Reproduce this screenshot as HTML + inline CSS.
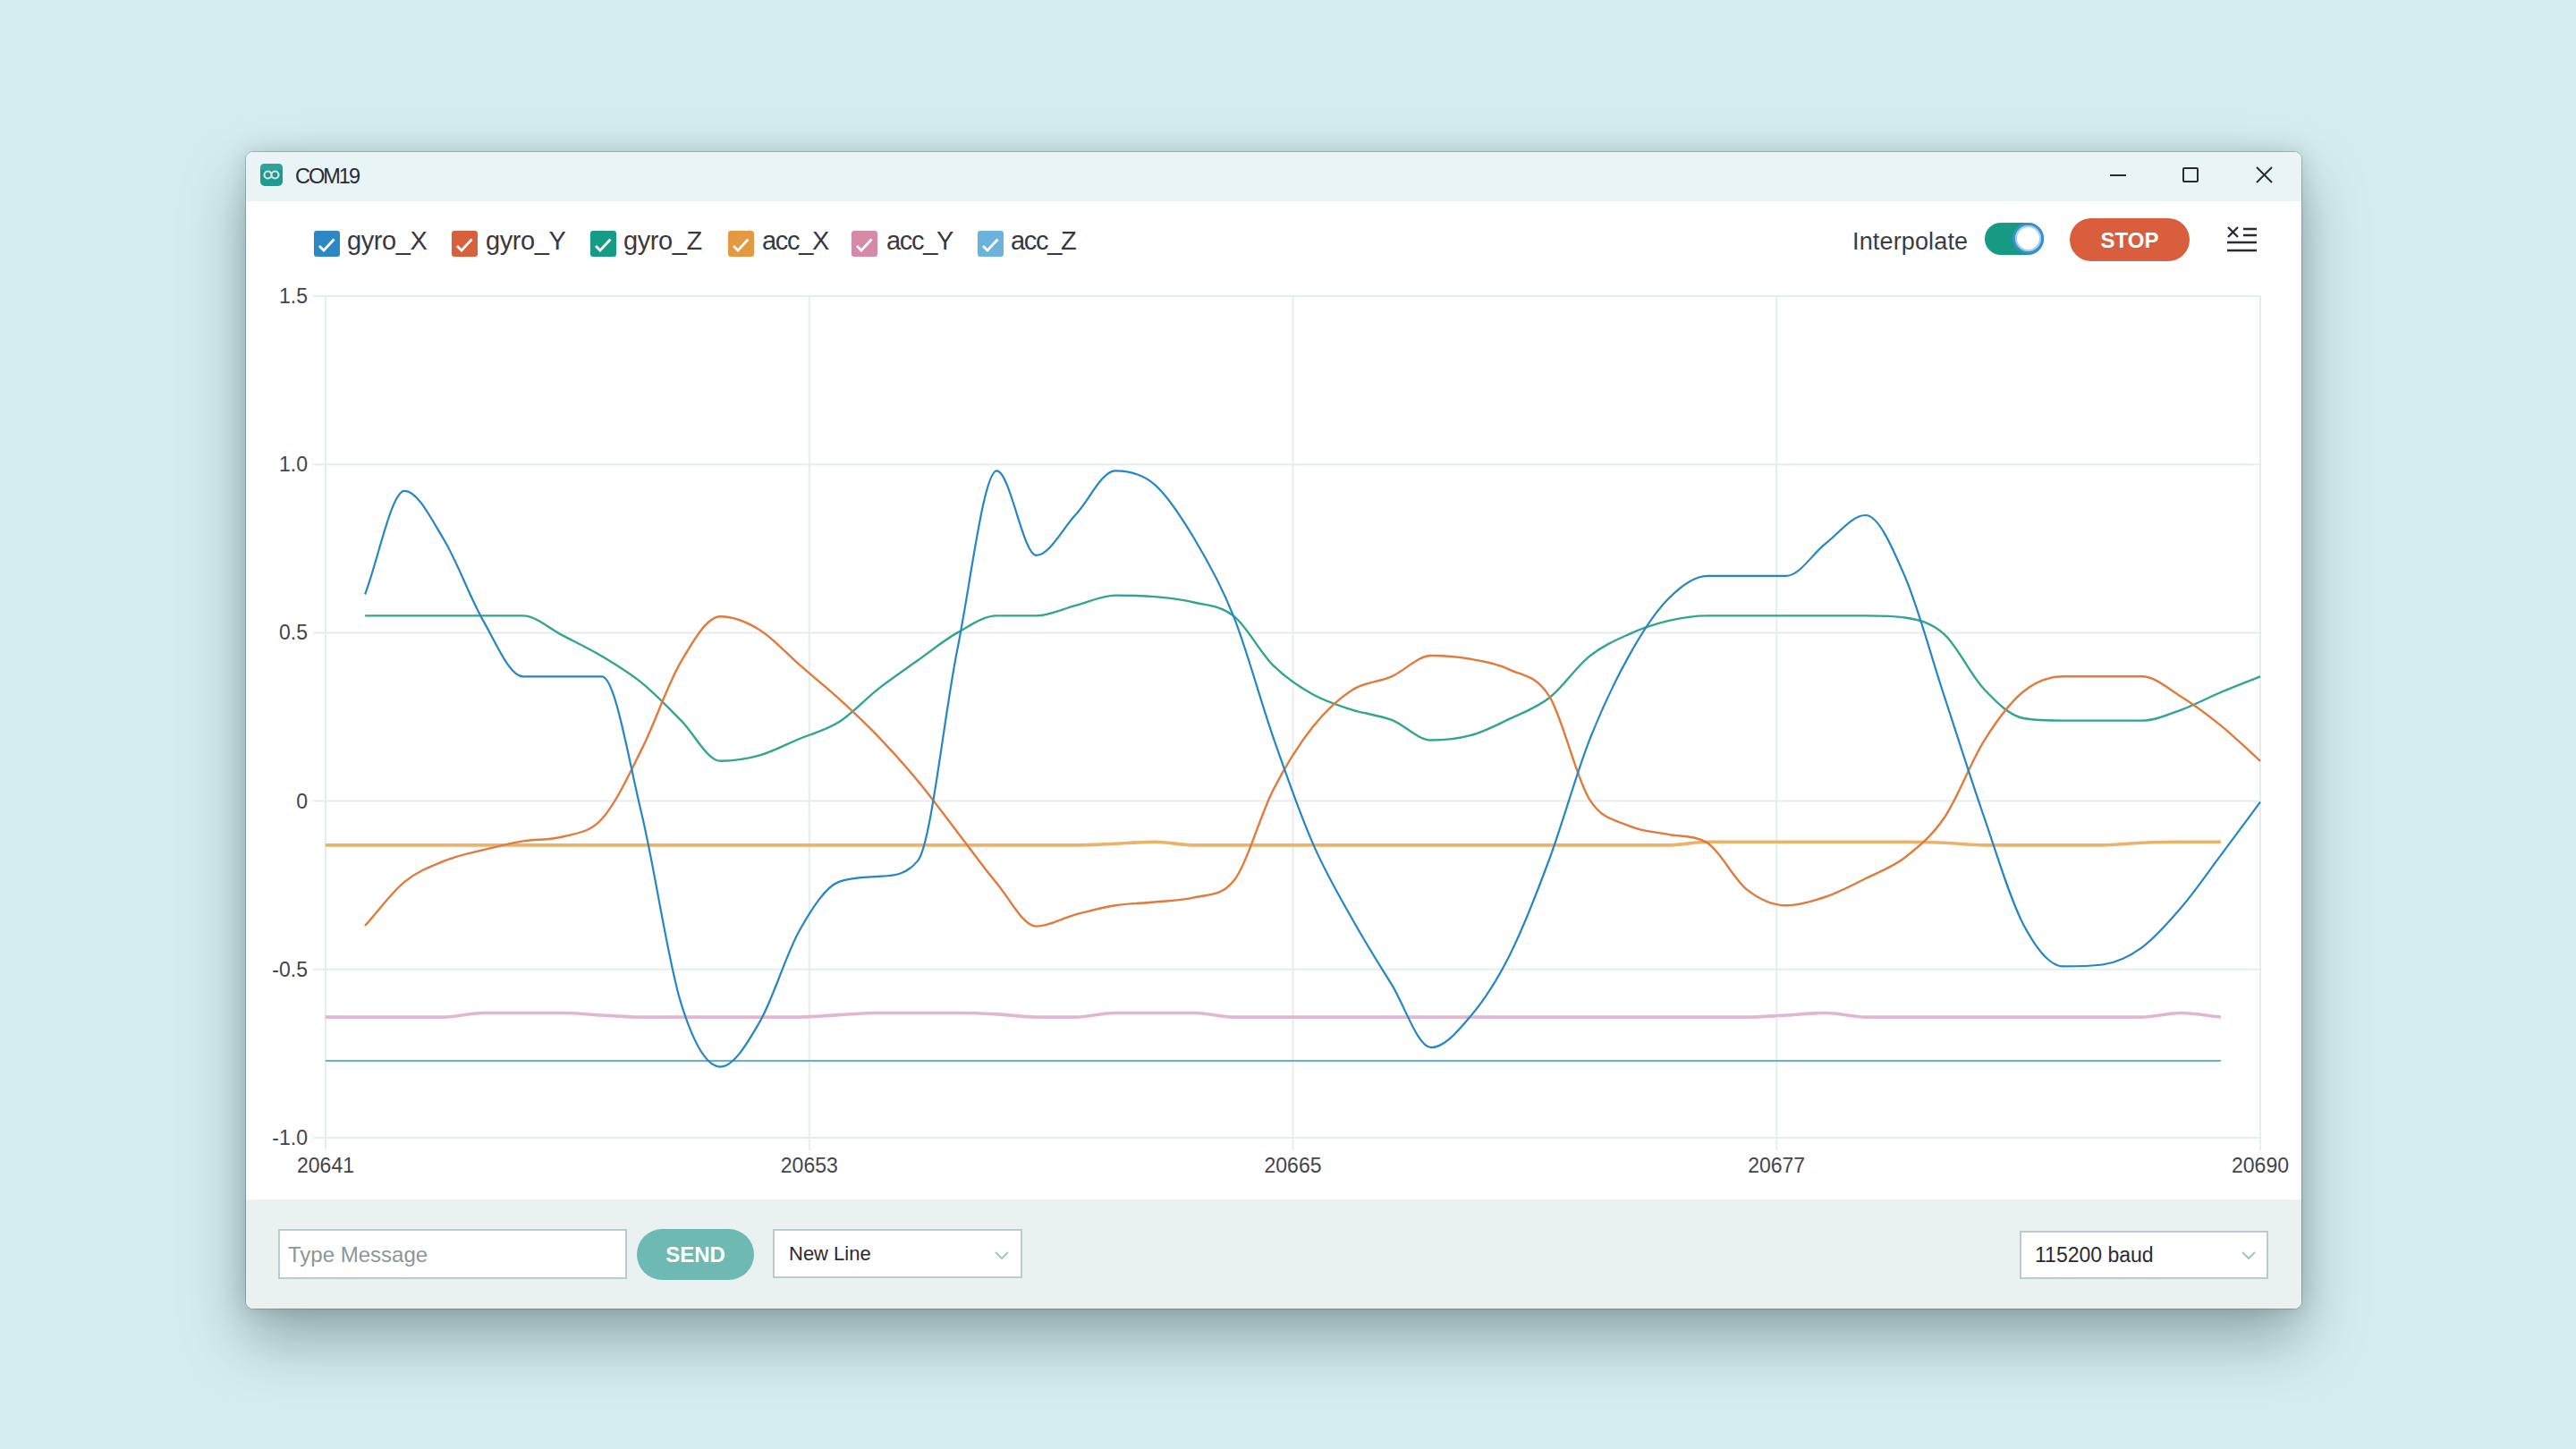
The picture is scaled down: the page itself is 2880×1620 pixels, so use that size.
<!DOCTYPE html>
<html><head><meta charset="utf-8"><title>COM19</title>
<style>
html,body{margin:0;padding:0;}
body{width:2880px;height:1620px;overflow:hidden;background:#d5edef;font-family:"Liberation Sans",sans-serif;position:relative;}
.win{position:absolute;left:275px;top:170px;width:2298px;height:1293px;border-radius:8px;background:#fff;
 box-shadow:0 0 0 1px rgba(40,70,75,0.28),0 0 24px rgba(40,62,66,0.18),0 34px 70px rgba(40,62,66,0.40);overflow:hidden;}
.title{position:absolute;left:0;top:0;width:100%;height:55px;background:#e8f4f5;}
.ico{position:absolute;left:16px;top:13px;width:25px;height:25px;border-radius:5px;background:#1d9b8f;}
.ttxt{position:absolute;left:55px;top:13px;font-size:23.5px;letter-spacing:-2px;color:#2b2a33;line-height:28px;}
.bar{position:absolute;left:0;top:1171px;width:100%;height:122px;background:#eaf1f1;}
.abs{position:absolute;}
.cb{position:absolute;top:88px;width:29px;height:29px;border-radius:3px;}
.cb svg{position:absolute;left:0;top:0;}
.lg{position:absolute;top:81px;font-size:29px;color:#393840;line-height:36px;white-space:nowrap;}
.yl{position:absolute;right:2536px;width:80px;text-align:right;font-size:23px;color:#44444c;line-height:26px;}
.xl{position:absolute;top:1290px;width:120px;text-align:center;font-size:23px;color:#44444c;line-height:26px;}
.inp{position:absolute;background:#fff;border:2px solid #b8cbce;box-sizing:border-box;}
</style></head>
<body>
<div class="win">
  <div class="title">
    <div class="ico"><svg width="25" height="25" viewBox="0 0 25 25"><rect x="0" y="0" width="25" height="7" rx="4" fill="#3aa9a0" opacity="0.6"/><path d="M4.5 12.5a4 4 0 1 0 8 0a4 4 0 1 0 -8 0M12.5 12.5a4 4 0 1 0 8 0a4 4 0 1 0 -8 0" fill="none" stroke="#d6e6e6" stroke-width="2.2"/></svg></div>
    <div class="ttxt">COM19</div>
    <div class="abs" style="left:2084px;top:25px;width:18px;height:2px;background:#2b2a33"></div>
    <div class="abs" style="left:2165px;top:17px;width:18px;height:17px;border:2px solid #2b2a33;border-radius:2px;box-sizing:border-box"></div>
    <svg class="abs" style="left:2247px;top:16px" width="19" height="19" viewBox="0 0 19 19"><path d="M1 1L18 18M18 1L1 18" stroke="#2b2a33" stroke-width="2"/></svg>
  </div>
  <div class="bar"></div>
</div>
<!-- legend -->
<div class="cb" style="left:351px;top:258px;background:#2b88c4"><svg width="29" height="29"><path d="M6 17L11 22L22.5 9.5" fill="none" stroke="#fff" stroke-width="2.8"/></svg></div>
<div class="lg" style="left:388px;top:251px;letter-spacing:-0.4px">gyro_X</div>
<div class="cb" style="left:505px;top:258px;background:#d9603c"><svg width="29" height="29"><path d="M6 17L11 22L22.5 9.5" fill="none" stroke="#fff" stroke-width="2.8"/></svg></div>
<div class="lg" style="left:543px;top:251px;letter-spacing:-0.4px">gyro_Y</div>
<div class="cb" style="left:660px;top:258px;background:#169c86"><svg width="29" height="29"><path d="M6 17L11 22L22.5 9.5" fill="none" stroke="#fff" stroke-width="2.8"/></svg></div>
<div class="lg" style="left:697px;top:251px;letter-spacing:-0.4px">gyro_Z</div>
<div class="cb" style="left:814px;top:258px;background:#e4983f"><svg width="29" height="29"><path d="M6 17L11 22L22.5 9.5" fill="none" stroke="#fff" stroke-width="2.8"/></svg></div>
<div class="lg" style="left:852px;top:251px;letter-spacing:-1.3px">acc_X</div>
<div class="cb" style="left:952px;top:258px;background:#d68aa8"><svg width="29" height="29"><path d="M6 17L11 22L22.5 9.5" fill="none" stroke="#fff" stroke-width="2.8"/></svg></div>
<div class="lg" style="left:991px;top:251px;letter-spacing:-1.3px">acc_Y</div>
<div class="cb" style="left:1093px;top:258px;background:#6bb2dc"><svg width="29" height="29"><path d="M6 17L11 22L22.5 9.5" fill="none" stroke="#fff" stroke-width="2.8"/></svg></div>
<div class="lg" style="left:1130px;top:251px;letter-spacing:-1.3px">acc_Z</div>
<!-- right controls -->
<div class="abs" style="left:2071px;top:255px;font-size:27px;letter-spacing:0.15px;color:#3c3c44;line-height:30px">Interpolate</div>
<div class="abs" style="left:2219px;top:249px;width:66px;height:36px;border-radius:18px;background:#169a84"></div>
<div class="abs" style="left:2250px;top:249px;width:29px;height:29px;border-radius:50%;background:#fff;border:3.5px solid #3a8fcf;box-shadow:inset 0 0 0 2px #a3d0ee"></div>
<div class="abs" style="left:2314px;top:244px;width:134px;height:48px;border-radius:24px;background:#d95e3d;color:#fff;font-weight:bold;font-size:24px;line-height:50px;text-align:center">STOP</div>
<svg class="abs" style="left:2488px;top:251px" width="38" height="32" viewBox="0 0 38 32">
 <path d="M3 3L14 14M14 3L3 14" stroke="#2b2a33" stroke-width="2.3"/>
 <path d="M20 5H35M20 12H35M2 20H35M2 29H35" stroke="#2b2a33" stroke-width="2.3"/>
</svg>
<!-- chart -->
<svg class="abs" style="left:0;top:0" width="2880" height="1620">
<line x1="350" y1="331.0" x2="2527.0" y2="331.0" stroke="#e5eeee" stroke-width="2"/>
<line x1="350" y1="519.2" x2="2527.0" y2="519.2" stroke="#e5eeee" stroke-width="2"/>
<line x1="350" y1="707.4" x2="2527.0" y2="707.4" stroke="#e5eeee" stroke-width="2"/>
<line x1="350" y1="895.6" x2="2527.0" y2="895.6" stroke="#e5eeee" stroke-width="2"/>
<line x1="350" y1="1083.8" x2="2527.0" y2="1083.8" stroke="#e5eeee" stroke-width="2"/>
<line x1="350" y1="1272.0" x2="2527.0" y2="1272.0" stroke="#e5eeee" stroke-width="2"/>
<line x1="364.0" y1="331.0" x2="364.0" y2="1286" stroke="#e5eeee" stroke-width="2"/>
<line x1="904.8" y1="331.0" x2="904.8" y2="1286" stroke="#e5eeee" stroke-width="2"/>
<line x1="1445.5" y1="331.0" x2="1445.5" y2="1286" stroke="#e5eeee" stroke-width="2"/>
<line x1="1986.2" y1="331.0" x2="1986.2" y2="1286" stroke="#e5eeee" stroke-width="2"/>
<line x1="2527.0" y1="331.0" x2="2527.0" y2="1286" stroke="#e5eeee" stroke-width="2"/>
<path d="M364.0 1186.0C378.7 1186.0 393.4 1186.0 408.1 1186.0C422.9 1186.0 437.6 1186.0 452.3 1186.0C467.0 1186.0 481.7 1186.0 496.4 1186.0C511.1 1186.0 525.9 1186.0 540.6 1186.0C555.3 1186.0 570.0 1186.0 584.7 1186.0C599.4 1186.0 614.1 1186.0 628.9 1186.0C643.6 1186.0 658.3 1186.0 673.0 1186.0C687.7 1186.0 702.4 1186.0 717.1 1186.0C731.9 1186.0 746.6 1186.0 761.3 1186.0C776.0 1186.0 790.7 1186.0 805.4 1186.0C820.1 1186.0 834.9 1186.0 849.6 1186.0C864.3 1186.0 879.0 1186.0 893.7 1186.0C908.4 1186.0 923.1 1186.0 937.9 1186.0C952.6 1186.0 967.3 1186.0 982.0 1186.0C996.7 1186.0 1011.4 1186.0 1026.1 1186.0C1040.9 1186.0 1055.6 1186.0 1070.3 1186.0C1085.0 1186.0 1099.7 1186.0 1114.4 1186.0C1129.1 1186.0 1143.9 1186.0 1158.6 1186.0C1173.3 1186.0 1188.0 1186.0 1202.7 1186.0C1217.4 1186.0 1232.1 1186.0 1246.9 1186.0C1261.6 1186.0 1276.3 1186.0 1291.0 1186.0C1305.7 1186.0 1320.4 1186.0 1335.1 1186.0C1349.9 1186.0 1364.6 1186.0 1379.3 1186.0C1394.0 1186.0 1408.7 1186.0 1423.4 1186.0C1438.1 1186.0 1452.9 1186.0 1467.6 1186.0C1482.3 1186.0 1497.0 1186.0 1511.7 1186.0C1526.4 1186.0 1541.1 1186.0 1555.9 1186.0C1570.6 1186.0 1585.3 1186.0 1600.0 1186.0C1614.7 1186.0 1629.4 1186.0 1644.1 1186.0C1658.9 1186.0 1673.6 1186.0 1688.3 1186.0C1703.0 1186.0 1717.7 1186.0 1732.4 1186.0C1747.1 1186.0 1761.9 1186.0 1776.6 1186.0C1791.3 1186.0 1806.0 1186.0 1820.7 1186.0C1835.4 1186.0 1850.1 1186.0 1864.9 1186.0C1879.6 1186.0 1894.3 1186.0 1909.0 1186.0C1923.7 1186.0 1938.4 1186.0 1953.1 1186.0C1967.9 1186.0 1982.6 1186.0 1997.3 1186.0C2012.0 1186.0 2026.7 1186.0 2041.4 1186.0C2056.1 1186.0 2070.9 1186.0 2085.6 1186.0C2100.3 1186.0 2115.0 1186.0 2129.7 1186.0C2144.4 1186.0 2159.1 1186.0 2173.9 1186.0C2188.6 1186.0 2203.3 1186.0 2218.0 1186.0C2232.7 1186.0 2247.4 1186.0 2262.1 1186.0C2276.9 1186.0 2291.6 1186.0 2306.3 1186.0C2321.0 1186.0 2335.7 1186.0 2350.4 1186.0C2365.1 1186.0 2379.9 1186.0 2394.6 1186.0C2409.3 1186.0 2424.0 1186.0 2438.7 1186.0C2453.4 1186.0 2468.1 1186.0 2482.9 1186.0" fill="none" stroke="#64afdc" stroke-width="2.2"/>
<path d="M364.0 1137.1C378.7 1137.1 393.4 1137.1 408.1 1137.1C422.9 1137.1 437.6 1137.1 452.3 1137.1C467.0 1137.1 481.7 1137.1 496.4 1137.1C511.1 1137.1 525.9 1132.5 540.6 1132.5C555.3 1132.5 570.0 1132.5 584.7 1132.5C599.4 1132.5 614.1 1132.5 628.9 1132.5C643.6 1132.5 658.3 1134.2 673.0 1135.0C687.7 1135.7 702.4 1137.1 717.1 1137.1C731.9 1137.1 746.6 1137.1 761.3 1137.1C776.0 1137.1 790.7 1137.1 805.4 1137.1C820.1 1137.1 834.9 1137.1 849.6 1137.1C864.3 1137.1 879.0 1137.1 893.7 1137.1C908.4 1137.1 923.1 1135.4 937.9 1134.6C952.6 1133.9 967.3 1132.5 982.0 1132.5C996.7 1132.5 1011.4 1132.5 1026.1 1132.5C1040.9 1132.5 1055.6 1132.5 1070.3 1132.5C1085.0 1132.5 1099.7 1133.1 1114.4 1133.9C1129.1 1134.6 1143.9 1137.1 1158.6 1137.1C1173.3 1137.1 1188.0 1137.1 1202.7 1137.1C1217.4 1137.1 1232.1 1132.5 1246.9 1132.5C1261.6 1132.5 1276.3 1132.5 1291.0 1132.5C1305.7 1132.5 1320.4 1132.5 1335.1 1132.5C1349.9 1132.5 1364.6 1137.1 1379.3 1137.1C1394.0 1137.1 1408.7 1137.1 1423.4 1137.1C1438.1 1137.1 1452.9 1137.1 1467.6 1137.1C1482.3 1137.1 1497.0 1137.1 1511.7 1137.1C1526.4 1137.1 1541.1 1137.1 1555.9 1137.1C1570.6 1137.1 1585.3 1137.1 1600.0 1137.1C1614.7 1137.1 1629.4 1137.1 1644.1 1137.1C1658.9 1137.1 1673.6 1137.1 1688.3 1137.1C1703.0 1137.1 1717.7 1137.1 1732.4 1137.1C1747.1 1137.1 1761.9 1137.1 1776.6 1137.1C1791.3 1137.1 1806.0 1137.1 1820.7 1137.1C1835.4 1137.1 1850.1 1137.1 1864.9 1137.1C1879.6 1137.1 1894.3 1137.1 1909.0 1137.1C1923.7 1137.1 1938.4 1137.1 1953.1 1137.1C1967.9 1137.1 1982.6 1135.7 1997.3 1135.0C2012.0 1134.2 2026.7 1132.5 2041.4 1132.5C2056.1 1132.5 2070.9 1137.1 2085.6 1137.1C2100.3 1137.1 2115.0 1137.1 2129.7 1137.1C2144.4 1137.1 2159.1 1137.1 2173.9 1137.1C2188.6 1137.1 2203.3 1137.1 2218.0 1137.1C2232.7 1137.1 2247.4 1137.1 2262.1 1137.1C2276.9 1137.1 2291.6 1137.1 2306.3 1137.1C2321.0 1137.1 2335.7 1137.1 2350.4 1137.1C2365.1 1137.1 2379.9 1137.1 2394.6 1137.1C2409.3 1137.1 2424.0 1132.5 2438.7 1132.5C2453.4 1132.5 2468.1 1135.6 2482.9 1137.1" fill="none" stroke="#e2b6d0" stroke-width="3.6"/>
<path d="M364.0 944.9C378.7 944.9 393.4 944.9 408.1 944.9C422.9 944.9 437.6 944.9 452.3 944.9C467.0 944.9 481.7 944.9 496.4 944.9C511.1 944.9 525.9 944.9 540.6 944.9C555.3 944.9 570.0 944.9 584.7 944.9C599.4 944.9 614.1 944.9 628.9 944.9C643.6 944.9 658.3 944.9 673.0 944.9C687.7 944.9 702.4 944.9 717.1 944.9C731.9 944.9 746.6 944.9 761.3 944.9C776.0 944.9 790.7 944.9 805.4 944.9C820.1 944.9 834.9 944.9 849.6 944.9C864.3 944.9 879.0 944.9 893.7 944.9C908.4 944.9 923.1 944.9 937.9 944.9C952.6 944.9 967.3 944.9 982.0 944.9C996.7 944.9 1011.4 944.9 1026.1 944.9C1040.9 944.9 1055.6 944.9 1070.3 944.9C1085.0 944.9 1099.7 944.9 1114.4 944.9C1129.1 944.9 1143.9 944.9 1158.6 944.9C1173.3 944.9 1188.0 944.9 1202.7 944.9C1217.4 944.9 1232.1 943.9 1246.9 943.3C1261.6 942.6 1276.3 941.3 1291.0 941.3C1305.7 941.3 1320.4 944.9 1335.1 944.9C1349.9 944.9 1364.6 944.9 1379.3 944.9C1394.0 944.9 1408.7 944.9 1423.4 944.9C1438.1 944.9 1452.9 944.9 1467.6 944.9C1482.3 944.9 1497.0 944.9 1511.7 944.9C1526.4 944.9 1541.1 944.9 1555.9 944.9C1570.6 944.9 1585.3 944.9 1600.0 944.9C1614.7 944.9 1629.4 944.9 1644.1 944.9C1658.9 944.9 1673.6 944.9 1688.3 944.9C1703.0 944.9 1717.7 944.9 1732.4 944.9C1747.1 944.9 1761.9 944.9 1776.6 944.9C1791.3 944.9 1806.0 944.9 1820.7 944.9C1835.4 944.9 1850.1 944.9 1864.9 944.9C1879.6 944.9 1894.3 941.3 1909.0 941.3C1923.7 941.3 1938.4 941.3 1953.1 941.3C1967.9 941.3 1982.6 941.3 1997.3 941.3C2012.0 941.3 2026.7 941.3 2041.4 941.3C2056.1 941.3 2070.9 941.3 2085.6 941.3C2100.3 941.3 2115.0 941.3 2129.7 941.3C2144.4 941.3 2159.1 941.6 2173.9 942.2C2188.6 942.8 2203.3 944.9 2218.0 944.9C2232.7 944.9 2247.4 944.9 2262.1 944.9C2276.9 944.9 2291.6 944.9 2306.3 944.9C2321.0 944.9 2335.7 944.9 2350.4 944.9C2365.1 944.9 2379.9 942.9 2394.6 942.3C2409.3 941.7 2424.0 941.3 2438.7 941.3C2453.4 941.3 2468.1 941.3 2482.9 941.3" fill="none" stroke="#ebb36a" stroke-width="3.6"/>
<path d="M408.1 688.4C422.9 688.4 437.6 688.4 452.3 688.4C467.0 688.4 481.7 688.4 496.4 688.4C511.1 688.4 525.9 688.4 540.6 688.4C555.3 688.4 570.0 688.4 584.7 688.4C599.4 688.4 614.1 702.9 628.9 710.4C643.6 718.0 658.3 725.0 673.0 733.7C687.7 742.5 702.4 751.2 717.1 763.1C731.9 775.0 746.6 790.6 761.3 805.3C776.0 819.9 790.7 850.8 805.4 850.8C820.1 850.8 834.9 848.5 849.6 844.4C864.3 840.3 879.0 832.1 893.7 826.0C908.4 819.8 923.1 816.7 937.9 807.3C952.6 798.0 967.3 781.6 982.0 770.1C996.7 758.6 1011.4 748.7 1026.1 738.3C1040.9 727.8 1055.6 715.7 1070.3 707.4C1085.0 699.1 1099.7 688.4 1114.4 688.4C1129.1 688.4 1143.9 688.4 1158.6 688.4C1173.3 688.4 1188.0 680.7 1202.7 676.9C1217.4 673.1 1232.1 665.6 1246.9 665.6C1261.6 665.6 1276.3 665.8 1291.0 667.1C1305.7 668.4 1320.4 669.9 1335.1 673.5C1349.9 677.1 1364.6 676.8 1379.3 688.6C1394.0 700.3 1408.7 729.3 1423.4 743.9C1438.1 758.5 1452.9 768.0 1467.6 776.3C1482.3 784.6 1497.0 788.8 1511.7 793.6C1526.4 798.4 1541.1 799.2 1555.9 804.9C1570.6 810.5 1585.3 827.5 1600.0 827.5C1614.7 827.5 1629.4 826.2 1644.1 822.2C1658.9 818.2 1673.6 810.4 1688.3 803.4C1703.0 796.4 1717.7 791.6 1732.4 780.0C1747.1 768.5 1761.9 745.9 1776.6 734.1C1791.3 722.3 1806.0 715.9 1820.7 709.3C1835.4 702.6 1850.1 697.7 1864.9 694.2C1879.6 690.7 1894.3 688.4 1909.0 688.4C1923.7 688.4 1938.4 688.4 1953.1 688.4C1967.9 688.4 1982.6 688.4 1997.3 688.4C2012.0 688.4 2026.7 688.4 2041.4 688.4C2056.1 688.4 2070.9 688.4 2085.6 688.4C2100.3 688.4 2115.0 688.4 2129.7 690.5C2144.4 692.5 2159.1 696.0 2173.9 709.3C2188.6 722.6 2203.3 754.6 2218.0 770.3C2232.7 785.9 2247.4 800.4 2262.1 803.0C2276.9 805.6 2291.6 805.6 2306.3 805.6C2321.0 805.6 2335.7 805.6 2350.4 805.6C2365.1 805.6 2379.9 805.6 2394.6 805.6C2409.3 805.6 2424.0 798.9 2438.7 793.6C2453.4 788.3 2468.1 780.2 2482.9 774.0C2497.6 767.8 2512.3 762.2 2527.0 756.3" fill="none" stroke="#31a592" stroke-width="2.4"/>
<path d="M408.1 1034.9C422.9 1018.6 437.6 998.0 452.3 985.9C467.0 973.9 481.7 968.6 496.4 962.6C511.1 956.6 525.9 953.9 540.6 950.2C555.3 946.5 570.0 942.8 584.7 940.4C599.4 937.9 614.1 939.6 628.9 935.5C643.6 931.4 658.3 931.7 673.0 915.5C687.7 899.4 702.4 867.7 717.1 838.4C731.9 809.1 746.6 764.6 761.3 739.8C776.0 714.9 790.7 689.3 805.4 689.3C820.1 689.3 834.9 695.4 849.6 704.4C864.3 713.4 879.0 730.4 893.7 743.2C908.4 756.0 923.1 767.7 937.9 781.2C952.6 794.6 967.3 808.4 982.0 823.7C996.7 839.0 1011.4 855.3 1026.1 873.0C1040.9 890.8 1055.6 911.2 1070.3 930.2C1085.0 949.3 1099.7 969.9 1114.4 987.4C1129.1 1005.0 1143.9 1035.6 1158.6 1035.6C1173.3 1035.6 1188.0 1026.3 1202.7 1022.4C1217.4 1018.6 1232.1 1014.6 1246.9 1012.3C1261.6 1010.0 1276.3 1010.0 1291.0 1008.5C1305.7 1007.0 1320.4 1006.8 1335.1 1003.3C1349.9 999.7 1364.6 1002.9 1379.3 984.8C1394.0 966.7 1408.7 911.8 1423.4 883.2C1438.1 854.5 1452.9 831.4 1467.6 812.8C1482.3 794.2 1497.0 780.8 1511.7 771.4C1526.4 762.0 1541.1 762.7 1555.9 756.3C1570.6 749.9 1585.3 733.0 1600.0 733.0C1614.7 733.0 1629.4 734.1 1644.1 736.8C1658.9 739.4 1673.6 741.8 1688.3 748.8C1703.0 755.8 1717.7 754.9 1732.4 778.9C1747.1 802.9 1761.9 868.9 1776.6 893.0C1791.3 917.0 1806.0 916.4 1820.7 923.1C1835.4 929.7 1850.1 929.9 1864.9 932.9C1879.6 935.8 1894.3 933.3 1909.0 942.6C1923.7 952.0 1938.4 983.0 1953.1 994.6C1967.9 1006.2 1982.6 1012.3 1997.3 1012.3C2012.0 1012.3 2026.7 1007.5 2041.4 1002.5C2056.1 997.5 2070.9 989.5 2085.6 982.2C2100.3 974.9 2115.0 970.0 2129.7 958.7C2144.4 947.3 2159.1 935.7 2173.9 914.0C2188.6 892.4 2203.3 852.1 2218.0 828.6C2232.7 805.1 2247.4 785.3 2262.1 773.3C2276.9 761.2 2291.6 756.3 2306.3 756.3C2321.0 756.3 2335.7 756.3 2350.4 756.3C2365.1 756.3 2379.9 756.3 2394.6 756.3C2409.3 756.3 2424.0 769.8 2438.7 778.9C2453.4 788.0 2468.1 799.1 2482.9 811.1C2497.6 823.0 2512.3 837.6 2527.0 850.8" fill="none" stroke="#e07b3c" stroke-width="2.4"/>
<path d="M408.1 664.5C422.9 626.0 437.6 548.9 452.3 548.9C467.0 548.9 481.7 579.2 496.4 603.5C511.1 627.8 525.9 669.1 540.6 694.6C555.3 720.1 570.0 756.3 584.7 756.3C599.4 756.3 614.1 756.3 628.9 756.3C643.6 756.3 658.3 756.3 673.0 756.3C687.7 756.3 702.4 847.9 717.1 908.8C731.9 969.6 746.6 1074.1 761.3 1121.4C776.0 1168.7 790.7 1192.6 805.4 1192.6C820.1 1192.6 834.9 1167.5 849.6 1142.1C864.3 1116.8 879.0 1066.5 893.7 1040.5C908.4 1014.5 923.1 991.6 937.9 985.9C952.6 980.3 967.3 980.8 982.0 979.9C996.7 979.0 1011.4 979.9 1026.1 962.4C1040.9 944.9 1055.6 798.9 1070.3 726.2C1085.0 653.5 1099.7 526.4 1114.4 526.4C1129.1 526.4 1143.9 620.8 1158.6 620.8C1173.3 620.8 1188.0 591.0 1202.7 575.3C1217.4 559.5 1232.1 526.4 1246.9 526.4C1261.6 526.4 1276.3 529.2 1291.0 541.8C1305.7 554.4 1320.4 577.4 1335.1 602.0C1349.9 626.6 1364.6 652.3 1379.3 689.3C1394.0 726.3 1408.7 781.9 1423.4 824.1C1438.1 866.3 1452.9 908.8 1467.6 942.6C1482.3 976.5 1497.0 1001.0 1511.7 1027.3C1526.4 1053.7 1541.1 1076.8 1555.9 1100.7C1570.6 1124.7 1585.3 1171.1 1600.0 1171.1C1614.7 1171.1 1629.4 1153.5 1644.1 1136.1C1658.9 1118.7 1673.6 1096.2 1688.3 1066.9C1703.0 1037.5 1717.7 999.7 1732.4 960.0C1747.1 920.3 1761.9 866.2 1776.6 828.6C1791.3 791.0 1806.0 760.6 1820.7 734.1C1835.4 707.7 1850.1 684.8 1864.9 669.8C1879.6 654.7 1894.3 643.8 1909.0 643.8C1923.7 643.8 1938.4 643.8 1953.1 643.8C1967.9 643.8 1982.6 643.8 1997.3 643.8C2012.0 643.8 2026.7 618.6 2041.4 607.3C2056.1 596.0 2070.9 576.0 2085.6 576.0C2100.3 576.0 2115.0 610.7 2129.7 644.5C2144.4 678.4 2159.1 734.2 2173.9 778.9C2188.6 823.6 2203.3 870.5 2218.0 912.9C2232.7 955.3 2247.4 1005.4 2262.1 1033.4C2276.9 1061.3 2291.6 1080.4 2306.3 1080.4C2321.0 1080.4 2335.7 1080.4 2350.4 1078.5C2365.1 1076.6 2379.9 1070.0 2394.6 1059.3C2409.3 1048.7 2424.0 1031.7 2438.7 1014.5C2453.4 997.4 2468.1 975.8 2482.9 956.2C2497.6 936.6 2512.3 916.6 2527.0 896.7" fill="none" stroke="#2586c5" stroke-width="2.2"/>
</svg>
<div class="yl" style="top:318.0px">1.5</div>
<div class="yl" style="top:506.2px">1.0</div>
<div class="yl" style="top:694.4px">0.5</div>
<div class="yl" style="top:882.6px">0</div>
<div class="yl" style="top:1070.8px">-0.5</div>
<div class="yl" style="top:1259.0px">-1.0</div>
<div class="xl" style="left:304.0px">20641</div>
<div class="xl" style="left:844.8px">20653</div>
<div class="xl" style="left:1385.5px">20665</div>
<div class="xl" style="left:1926.2px">20677</div>
<div class="xl" style="left:2467.0px">20690</div>
<!-- bottom bar -->
<div class="inp" style="left:311px;top:1374px;width:390px;height:56px"></div>
<div class="abs" style="left:322px;top:1389px;font-size:24px;color:#8a9799;line-height:28px">Type Message</div>
<div class="abs" style="left:712px;top:1374px;width:131px;height:57px;border-radius:28.5px;background:#6fb9b3;color:#fff;font-weight:bold;font-size:24px;line-height:57px;text-align:center">SEND</div>
<div class="inp" style="left:864px;top:1374px;width:279px;height:55px"></div>
<div class="abs" style="left:882px;top:1388px;font-size:22px;color:#2b2a33;line-height:28px">New Line</div>
<svg class="abs" style="left:1111px;top:1397px" width="18" height="14"><path d="M2 3l7 7l7-7" fill="none" stroke="#a9c4c6" stroke-width="2"/></svg>
<div class="inp" style="left:2258px;top:1376px;width:278px;height:54px"></div>
<div class="abs" style="left:2275px;top:1389px;font-size:23px;color:#2b2a33;line-height:28px">115200 baud</div>
<svg class="abs" style="left:2505px;top:1397px" width="18" height="14"><path d="M2 3l7 7l7-7" fill="none" stroke="#a9c4c6" stroke-width="2"/></svg>
</body></html>
